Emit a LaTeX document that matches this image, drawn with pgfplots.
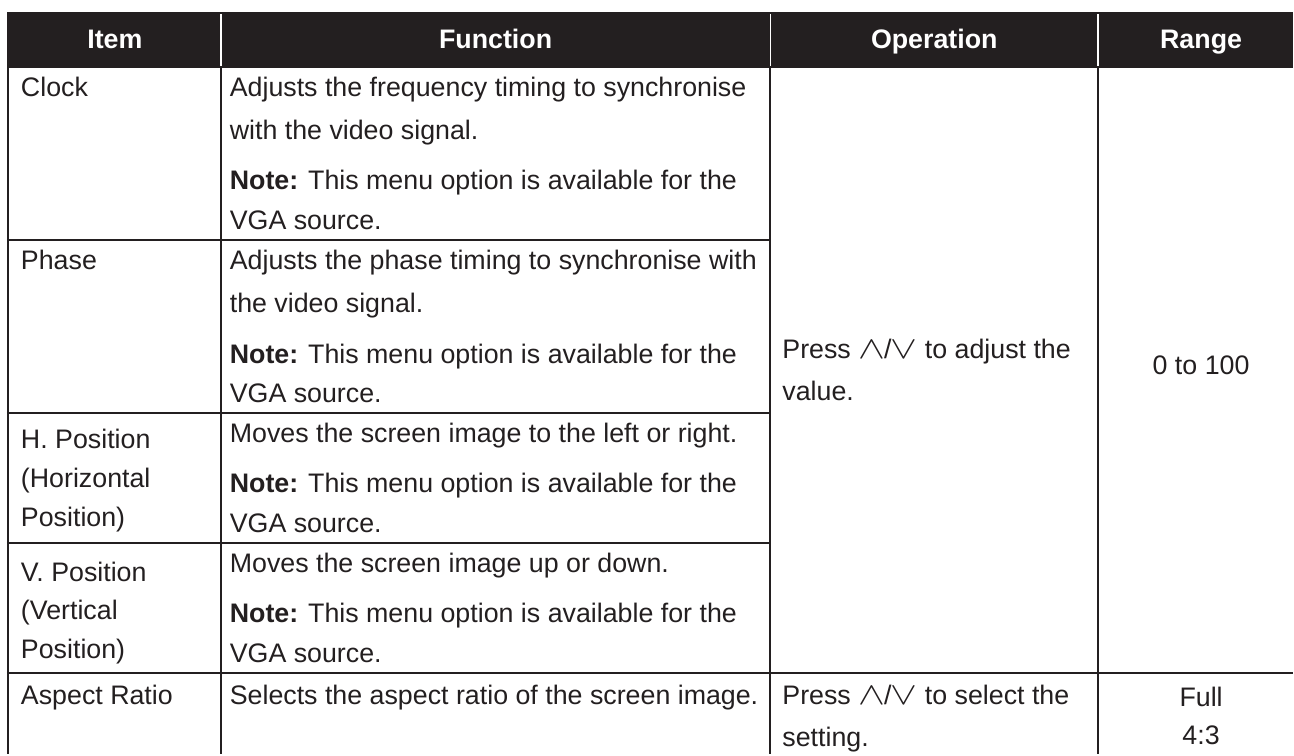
\documentclass[border=0pt]{standalone}
\usepackage{pgfplots}
\pgfplotsset{compat=1.18}
\usepackage{fontspec}
\setmainfont{Liberation Sans}
\definecolor{ink}{HTML}{231F20}
\newcommand\tf{\fontsize{13.4pt}{16pt}\selectfont}
\newcommand\updown{\scalebox{1.4}[1.1]{$\wedge$}\kern-0.5pt/\kern-0.5pt\scalebox{1.4}[1.1]{$\vee$}}
\tikzset{cell/.style={font=\tf, text=ink, inner sep=0pt, outer sep=0pt},
         L/.style={cell, anchor=base west},
         C/.style={cell, anchor=base},
         H/.style={cell, anchor=base, text=white, font=\tf\bfseries}}
\begin{document}
\begin{tikzpicture}
\begin{axis}[
  width=647pt, height=377.5pt, scale only axis,
  xmin=0, xmax=1294, ymin=0, ymax=755, y dir=reverse,
  hide axis, clip=false,
]
\addplot[draw=none, forget plot] coordinates {(0,0) (1294,755)};
% header
\fill[ink] (axis cs:7,12) rectangle (axis cs:1294,68);
\draw[white, line width=0.7pt] (axis cs:221,14) -- (axis cs:221,66);
\draw[white, line width=0.7pt] (axis cs:771,14) -- (axis cs:771,66);
\draw[white, line width=0.7pt] (axis cs:1099,14) -- (axis cs:1099,66);
\node[H] at (axis cs:115,49) {Item};
\node[H] at (axis cs:496,49) {Function};
\node[H] at (axis cs:935,49) {Operation};
\node[H] at (axis cs:1202,49) {Range};
% grid lines
\begin{scope}[draw=ink, line width=1pt]
\draw (axis cs:8,68) -- (axis cs:8,755);
\draw (axis cs:221,68) -- (axis cs:221,755);
\draw (axis cs:771,68) -- (axis cs:771,755);
\draw (axis cs:1099,68) -- (axis cs:1099,755);
\draw (axis cs:7,240) -- (axis cs:771,240);
\draw (axis cs:7,413) -- (axis cs:771,413);
\draw (axis cs:7,543) -- (axis cs:771,543);
\draw (axis cs:7,674) -- (axis cs:1294,674);
\end{scope}
% Clock
\node[L] at (axis cs:21,97) {Clock};
\node[L] at (axis cs:230,97) {Adjusts the frequency timing to synchronise};
\node[L] at (axis cs:230,140) {with the video signal.};
\node[L] at (axis cs:230,190) {\textbf{Note:} This menu option is available for the};
\node[L] at (axis cs:230,230) {VGA source.};
% Phase
\node[L] at (axis cs:21,270) {Phase};
\node[L] at (axis cs:230,270) {Adjusts the phase timing to synchronise with};
\node[L] at (axis cs:230,313) {the video signal.};
\node[L] at (axis cs:230,364) {\textbf{Note:} This menu option is available for the};
\node[L] at (axis cs:230,403) {VGA source.};
% H. Position
\node[L] at (axis cs:21,449) {H. Position};
\node[L] at (axis cs:21,488) {(Horizontal};
\node[L] at (axis cs:21,527) {Position)};
\node[L] at (axis cs:230,443) {Moves the screen image to the left or right.};
\node[L] at (axis cs:230,493) {\textbf{Note:} This menu option is available for the};
\node[L] at (axis cs:230,533) {VGA source.};
% V. Position
\node[L] at (axis cs:21,582) {V. Position};
\node[L] at (axis cs:21,620) {(Vertical};
\node[L] at (axis cs:21,659) {Position)};
\node[L] at (axis cs:230,573) {Moves the screen image up or down.};
\node[L] at (axis cs:230,623) {\textbf{Note:} This menu option is available for the};
\node[L] at (axis cs:230,663) {VGA source.};
% merged operation / range
\node[L] at (axis cs:783,359) {Press \updown\ to adjust the};
\node[L] at (axis cs:783,401) {value.};
\node[C] at (axis cs:1202,375) {0 to 100};
% Aspect Ratio
\node[L] at (axis cs:21,705) {Aspect Ratio};
\node[L] at (axis cs:230,705) {Selects the aspect ratio of the screen image.};
\node[L] at (axis cs:783,705) {Press \updown\ to select the};
\node[L] at (axis cs:783,747) {setting.};
\node[C] at (axis cs:1202,707) {Full};
\node[C] at (axis cs:1202,745) {4:3};
\end{axis}
\end{tikzpicture}
\end{document}
